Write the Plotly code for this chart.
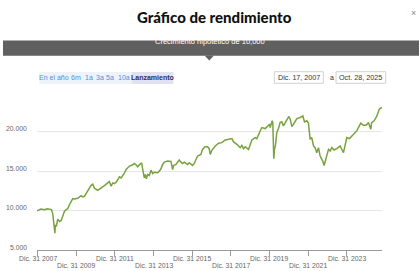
import plotly.graph_objects as go

# ---- data ----
dates = [
    "2007-12-17", "2008-03-01", "2008-05-01", "2008-07-01", "2008-09-15", "2008-10-10",
    "2008-11-20", "2008-11-28", "2008-12-15", "2009-01-12", "2009-02-15", "2009-03-17",
    "2009-04-15", "2009-05-18", "2009-06-20", "2009-07-20", "2009-08-22", "2009-09-22",
    "2009-10-23", "2009-11-24", "2010-01-26", "2010-03-29", "2010-04-30", "2010-06-01",
    "2010-07-02", "2010-08-03", "2010-10-05", "2010-11-05", "2010-12-08", "2011-02-08",
    "2011-04-12", "2011-06-14", "2011-08-16", "2011-09-16", "2011-10-18", "2011-11-18",
    "2011-12-20", "2012-01-21", "2012-02-22", "2012-03-24", "2012-04-25", "2012-05-27",
    "2012-06-28", "2012-07-29", "2012-09-30", "2012-12-01", "2013-01-01", "2013-02-01",
    "2013-03-05", "2013-04-05", "2013-05-19", "2013-06-07", "2013-07-08", "2013-07-27",
    "2013-08-15", "2013-09-09", "2013-10-10", "2013-11-11", "2013-12-12", "2014-01-13",
    "2014-03-17", "2014-04-17", "2014-05-19", "2014-06-19", "2014-07-21", "2014-09-22",
    "2014-11-23", "2014-12-25", "2015-01-12", "2015-02-26", "2015-04-29", "2015-05-31",
    "2015-07-01", "2015-08-02", "2015-10-03", "2015-11-03", "2016-01-06", "2016-02-06",
    "2016-03-09", "2016-04-10", "2016-06-12", "2016-07-13", "2016-08-27", "2016-10-16",
    "2016-11-16", "2016-12-05", "2017-01-08", "2017-03-11", "2017-05-12", "2017-07-14",
    "2017-09-14", "2017-11-16", "2018-01-19", "2018-02-20", "2018-04-23", "2018-06-24",
    "2018-07-26", "2018-08-27", "2018-09-27", "2018-11-29", "2019-01-01", "2019-02-01",
    "2019-04-05", "2019-05-06", "2019-07-08", "2019-08-08", "2019-10-10", "2019-11-24",
    "2020-01-01", "2020-01-13", "2020-02-20", "2020-03-03", "2020-03-21", "2020-04-03",
    "2020-04-22", "2020-05-17", "2020-06-18", "2020-07-19", "2020-08-20", "2020-09-20",
    "2020-10-22", "2020-11-23", "2021-01-01", "2021-01-26", "2021-02-26", "2021-03-30",
    "2021-05-01", "2021-06-01", "2021-08-03", "2021-09-22", "2021-10-23", "2021-12-06",
    "2022-01-06", "2022-02-07", "2022-03-10", "2022-04-11", "2022-05-12", "2022-06-13",
    "2022-07-14", "2022-08-15", "2022-09-16", "2022-10-04", "2022-10-29", "2022-11-24",
    "2022-12-19", "2023-01-20", "2023-02-21", "2023-03-23", "2023-05-07", "2023-06-25",
    "2023-08-28", "2023-09-28", "2023-10-30", "2023-11-30", "2024-01-01", "2024-02-20",
    "2024-04-05", "2024-05-19", "2024-07-08", "2024-08-08", "2024-09-21", "2024-11-10",
    "2025-01-01", "2025-02-14", "2025-03-29", "2025-04-16", "2025-05-31", "2025-07-19",
    "2025-09-08", "2025-10-28",
]
values = [
    10000, 10210, 10130, 10250, 10150, 9600,
    7160, 8220, 8010, 8940, 8640, 8770,
    9280, 9915, 10130, 10250, 10760, 11270,
    11530, 11480, 11570, 11910, 11740, 11820,
    12160, 12670, 13220, 13350, 12840, 12580,
    12840, 13180, 13520, 13690, 13090, 13520,
    13430, 13600, 13940, 14280, 14150, 14450,
    14790, 15210, 15640, 15800, 15970, 15800,
    15550, 15800, 16060, 15210, 14150, 14580,
    14030, 14580, 14450, 15130, 14700, 14870,
    14790, 15000, 15300, 15850, 16140, 16270,
    16230, 15210, 15720, 15850, 16400, 16140,
    15970, 16140, 15850, 16060, 15720, 15970,
    16480, 16910, 17120, 17750, 18090, 18090,
    17840, 17120, 17670, 18180, 18520, 18600,
    18940, 19020, 19110, 18690, 18390, 17970,
    18260, 17840, 18090, 17750, 18390, 18940,
    19240, 19110, 20080, 20510, 20380, 20630,
    20930, 20510, 21360, 21140, 16570, 17750,
    18260, 19870, 20380, 21140, 21230, 20720,
    21140, 21360, 21910, 21570, 20630, 20930,
    21360, 21650, 21780, 21990, 21230, 21360,
    21060, 19020, 19240, 18180, 17970, 17330,
    17970, 16910, 16480, 16270, 15720, 16480,
    17120, 17750, 17540, 17970, 17670, 17840,
    18180, 17750, 17330, 18260, 19240, 19110,
    19450, 19790, 20080, 20510, 21060, 20800,
    20800, 21140, 20300, 21140, 21360, 21910,
    22840, 23050,
]

x_tick_dates = ["2007-12-31", "2009-12-31", "2011-12-31", "2013-12-31", "2015-12-31",
                "2017-12-31", "2019-12-31", "2021-12-31", "2023-12-31"]
x_tick_labels = ["Dic. 31 2007", "Dic. 31 2009", "Dic. 31 2011", "Dic. 31 2013", "Dic. 31 2015",
                 "Dic. 31 2017", "Dic. 31 2019", "Dic. 31 2021", "Dic. 31 2023"]
y_tick_values = [5000, 10000, 15000, 20000]
y_tick_labels = ["5.000", "10.000", "15.000", "20.000"]

title_text = "Gráfico de rendimiento"
banner_text = "Crecimiento hipotético de 10,000"
range_buttons = ["En el año", "6m", "1a", "3a", "5a", "10a", "Lanzamiento"]
date_from = "Dic. 17, 2007"
date_to = "Oct. 28, 2025"

W, H = 420, 271
FONT = "Liberation Sans, Arial, Helvetica, sans-serif"

def px(x):
    return x / W

def py(y):
    return 1 - y / H

fig = go.Figure()
fig.add_trace(go.Scatter(
    x=dates, y=values, mode="lines",
    line=dict(color="#78a23e", width=1.5),
    hoverinfo="skip", showlegend=False,
))

x0, x1 = 37, 382
y_top, y_bot = 92, 250.3

fig.update_layout(
    width=W, height=H,
    margin=dict(l=0, r=0, t=0, b=0),
    paper_bgcolor="white", plot_bgcolor="white",
    showlegend=False,
    xaxis=dict(
        type="date", domain=[px(x0), px(x1)],
        range=[dates[0], dates[-1]],
        tickvals=x_tick_dates, ticktext=[""] * len(x_tick_dates),
        ticks="outside", ticklen=5, tickcolor="#9a9a9a", tickwidth=1,
        showline=True, linecolor="#9a9a9a", linewidth=1,
        showgrid=False, zeroline=False, fixedrange=True,
    ),
    yaxis=dict(
        domain=[py(y_bot), py(y_top)],
        range=[5000, 25000],
        tickvals=[10000, 15000, 20000, 25000], showticklabels=False,
        showgrid=True, gridcolor="#e6e6e6", gridwidth=1,
        zeroline=False, showline=False, fixedrange=True,
    ),
)

shapes = []
annotations = []

# title and close mark
annotations.append(dict(text=title_text, xref="paper", yref="paper",
                        x=px(214), y=py(17), xanchor="center", yanchor="middle",
                        showarrow=False,
                        font=dict(family="Lato, Liberation Sans, Arial", size=15,
                                  weight=900, color="#111111")))
annotations.append(dict(text="×", xref="paper", yref="paper", x=px(413), y=py(12.5),
                        xanchor="center", yanchor="middle", showarrow=False,
                        font=dict(family=FONT, size=9, color="#888888")))

# dark banner with pointer
shapes.append(dict(type="rect", xref="paper", yref="paper", x0=px(3), x1=px(419),
                   y0=py(55.7), y1=py(40.5), fillcolor="#606060", line=dict(width=0)))
shapes.append(dict(type="path", xref="paper", yref="paper",
                   path=f"M {px(204.5)},{py(55.5)} L {px(214)},{py(55.5)} L {px(209.3)},{py(60.5)} Z",
                   fillcolor="#606060", line=dict(width=0)))
annotations.append(dict(text=banner_text, xref="paper", yref="paper", x=px(210), y=py(41.5),
                        xanchor="center", yanchor="middle", showarrow=False,
                        font=dict(family=FONT, size=7.5, color="#ffffff")))

# range buttons
shapes.append(dict(type="rect", xref="paper", yref="paper", x0=px(39.3), x1=px(131.7),
                   y0=py(84), y1=py(72), fillcolor="#eef3fa", line=dict(width=0)))
shapes.append(dict(type="rect", xref="paper", yref="paper", x0=px(131.7), x1=px(173.3),
                   y0=py(84), y1=py(72), fillcolor="#e1e1f4", line=dict(width=0)))
btn_centers = [53.7, 76.3, 88.5, 99.5, 110.3, 123.8, 152.5]
for i, (lab, cx) in enumerate(zip(range_buttons, btn_centers)):
    active = lab == "Lanzamiento"
    annotations.append(dict(
        text=("<b>" + lab + "</b>") if active else lab,
        xref="paper", yref="paper", x=px(cx), y=py(77.8),
        xanchor="center", yanchor="middle", showarrow=False,
        font=dict(family=FONT, size=7, color="#2d2d5e" if active else "#4f8fdc")))

# date boxes
for (bx0, bx1, txt) in [(274.3, 323.3, date_from), (336, 385.7, date_to)]:
    shapes.append(dict(type="rect", xref="paper", yref="paper", x0=px(bx0), x1=px(bx1),
                       y0=py(83.3), y1=py(71.7), fillcolor="white",
                       line=dict(color="#d0d0d0", width=1)))
    annotations.append(dict(text=txt, xref="paper", yref="paper", x=px((bx0 + bx1) / 2),
                            y=py(77.5), xanchor="center", yanchor="middle", showarrow=False,
                            font=dict(family=FONT, size=7.2, color="#333333")))
annotations.append(dict(text="a", xref="paper", yref="paper", x=px(331.7), y=py(77.5),
                        xanchor="center", yanchor="middle", showarrow=False,
                        font=dict(family=FONT, size=7, color="#333333")))

# y axis labels
for v, lab in zip(y_tick_values, y_tick_labels):
    annotations.append(dict(text=lab, xref="paper", yref="y", x=px(29), y=v,
                            xanchor="right", yanchor="middle", yshift=3, showarrow=False,
                            font=dict(family=FONT, size=6.8, color="#666666")))

# x axis labels (staggered)
for i, (d, lab) in enumerate(zip(x_tick_dates, x_tick_labels)):
    annotations.append(dict(text=lab, xref="x", yref="paper", x=d, y=py(y_bot),
                            xanchor="center", yanchor="middle",
                            yshift=-8 if i % 2 == 0 else -14.7, showarrow=False,
                            font=dict(family=FONT, size=6.8, color="#666666")))

fig.update_layout(shapes=shapes, annotations=annotations)
fig.write_html("out.html")
